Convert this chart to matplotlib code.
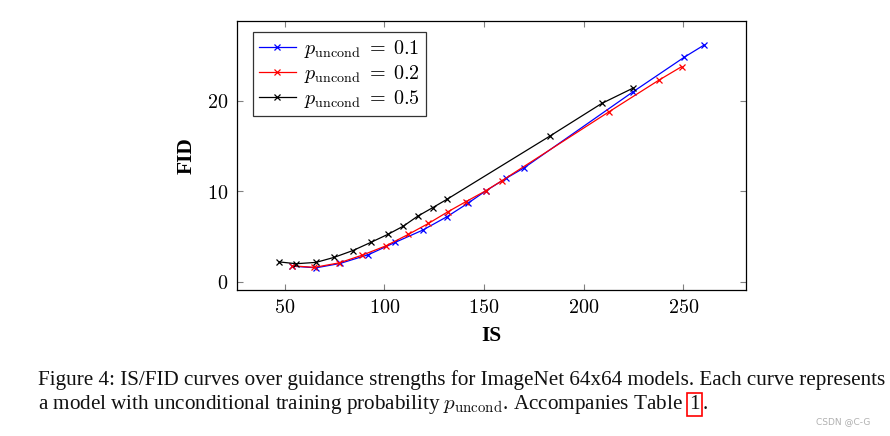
import matplotlib
matplotlib.use("Agg")
import matplotlib.pyplot as plt
from matplotlib.ticker import FixedLocator, FuncFormatter

plt.rcParams["mathtext.fontset"] = "cm"

# IS / FID curves
is_p01 = [53.8, 65.7, 77.7, 92.0, 105.3, 119.2, 131.3, 141.8, 151.0, 161.0, 170.2, 224.9, 250.5, 260.5]
fid_p01 = [1.73, 1.55, 2.03, 3.0, 4.35, 5.71, 7.18, 8.66, 10.06, 11.42, 12.6, 21.0, 24.8, 26.15]

is_p02 = [53.5, 64.9, 77.4, 88.9, 100.8, 112.0, 122.1, 131.8, 140.8, 150.9, 158.9, 212.9, 238.0, 249.2]
fid_p02 = [1.77, 1.6, 2.1, 2.95, 3.98, 5.24, 6.45, 7.73, 8.84, 10.06, 11.16, 18.8, 22.3, 23.76]

is_p05 = [47.3, 55.7, 65.7, 74.7, 84.1, 93.1, 101.8, 109.5, 116.7, 124.3, 131.3, 183.1, 209.1, 224.9]
fid_p05 = [2.2, 2.0, 2.15, 2.7, 3.45, 4.35, 5.25, 6.15, 7.25, 8.2, 9.1, 16.1, 19.7, 21.4]

series_labels = [r"$p_{\mathrm{uncond}}\;=\;0.1$", r"$p_{\mathrm{uncond}}\;=\;0.2$", r"$p_{\mathrm{uncond}}\;=\;0.5$"]
series_colors = ["#0000ff", "#ff0000", "#000000"]

x_ticks = [50, 100, 150, 200, 250]
y_ticks = [0, 10, 20]

caption_line1 = "Figure 4: IS/FID curves over guidance strengths for ImageNet 64x64 models. Each curve represents"
caption_line2a = r"a model with unconditional training probability $p_{\mathrm{uncond}}$. Accompanies Table"
caption_ref = "1"

W, H = 890, 436
fig = plt.figure(figsize=(W / 100, H / 100), dpi=100)
ax = fig.add_axes([237 / W, 1 - 290 / H, (746 - 237) / W, (290 - 21) / H])

for xs, ys, label, color in zip(
    [is_p01, is_p02, is_p05], [fid_p01, fid_p02, fid_p05], series_labels, series_colors
):
    ax.plot(xs, ys, color=color, lw=0.9, marker="x", ms=5, mew=0.9, label=label)

ax.set_xlim(26, 281.5)
ax.set_ylim(-0.9, 28.8)
ax.xaxis.set_major_locator(FixedLocator(x_ticks))
ax.yaxis.set_major_locator(FixedLocator(y_ticks))
fmt = FuncFormatter(lambda v, pos: r"$%d$" % v)
ax.xaxis.set_major_formatter(fmt)
ax.yaxis.set_major_formatter(fmt)
ax.tick_params(direction="in", length=4, width=0.8, color="#808080",
               top=True, right=True, labelsize=14.5, pad=6)
for sp in ax.spines.values():
    sp.set_linewidth(0.9)

ax.set_xlabel("IS", family="Liberation Serif", weight="bold", fontsize=15.5, labelpad=6)
ax.set_ylabel("FID", family="Liberation Serif", weight="bold", fontsize=15.5, labelpad=8)

leg = ax.legend(loc="upper left", bbox_to_anchor=(0.031, 0.96), borderaxespad=0,
                fontsize=14.5, fancybox=False, framealpha=1, edgecolor="#333333",
                handlelength=1.85, handletextpad=0.4, labelspacing=0.15,
                borderpad=0.3, numpoints=1)
leg.get_frame().set_linewidth(0.9)

cap_kw = dict(family="Liberation Serif", fontsize=15.2, color="#111111", va="baseline")
fig.text(38 / W, 1 - 385 / H, caption_line1, **cap_kw)
t2 = fig.text(38 / W, 1 - 409 / H, caption_line2a, **cap_kw)

fig.canvas.draw()
renderer = fig.canvas.get_renderer()
bb = t2.get_window_extent(renderer)
inv = fig.transFigure.inverted()
x_end = inv.transform((bb.x1 + 6, bb.y0))[0]
t3 = fig.text(x_end, 1 - 409 / H, caption_ref, **cap_kw)
t3.set_bbox(dict(facecolor="none", edgecolor="#ff0000", linewidth=1.2, boxstyle="square,pad=0.1"))
bb3 = t3.get_window_extent(renderer)
fig.text(inv.transform((bb3.x1 + 3, bb3.y0))[0], 1 - 409 / H, ".", **cap_kw)

fig.text(870 / W, 1 - 424 / H, "CSDN @C-G", ha="right", va="baseline",
         fontsize=6.5, color="#b0b0b0")

fig.savefig("out.png", dpi=100)
